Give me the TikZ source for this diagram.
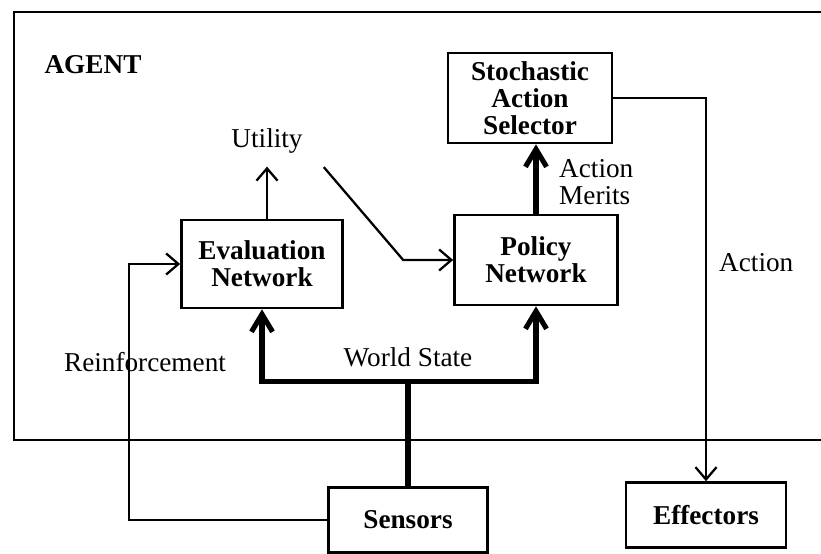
\documentclass[tikz,border=0pt]{standalone}
\usepackage{fontspec}
\setmainfont{Liberation Serif}
\usetikzlibrary{arrows.meta,calc}

\begin{document}
\begin{tikzpicture}[x=0.02cm,y=-0.02cm,
    every node/.style={font=\fontsize{15.5}{15.5}\selectfont},
    box/.style={draw,line width=1.5pt,align=center,inner sep=0pt,
        font=\fontsize{15.5}{15.5}\selectfont\bfseries},
    wire/.style={line width=1.3pt,-{Straight Barb[length=7pt,width=12pt]}},
    bus/.style={line width=2.9pt,-{Straight Barb[length=10pt,width=12pt]}}]
    \useasboundingbox (0,0) rectangle (821,554);

    % the agent frame runs off the right edge
    \draw[line width=1.5pt] (821,12) -- (14,12) -- (14,440) -- (821,440);
    \node[font=\fontsize{15.5}{15.5}\selectfont\bfseries] (agent) at (93,65) {AGENT};

    \node[box,minimum width=3.22cm,minimum height=1.76cm] (eval) at (262,264) {Evaluation\\Network};
    \node[box,minimum width=3.26cm,minimum height=1.8cm] (policy) at (536,260) {Policy\\Network};
    \node[box,minimum width=3.28cm,minimum height=1.8cm] (sas) at (530,98) {Stochastic\\Action\\Selector};
    \node[box,minimum width=3.18cm,minimum height=1.3cm] (sensors) at (408,520) {Sensors};
    \node[box,minimum width=3.2cm,minimum height=1.3cm] (effectors) at (706,515) {Effectors};

    \node (util) at (267,141) {Utility};
    \node (reinf) at (145,362) {Reinforcement};
    \node (world) at (408,357) {World State};
    \node[align=left,anchor=west] (merits) at (553,182) {Action\\Merits};
    \node[anchor=west] (act) at (713,263) {Action};

    % connectors
    \draw[wire,shorten >=4pt] (eval.north -| util.south) -- (util.south);
    \draw[wire] ([shift={(0.3cm,-0.15cm)}]util.south east) -- ($(policy.west)+(-50,0)$) -- (policy.west);
    \draw[wire] (sensors.west) -- ++(-198,0) |- (eval.west);
    \draw[line width=2.9pt] (sensors.north) -- ++(0,-105) coordinate (junc);
    \draw[bus] (junc) -| (eval.south);
    \draw[bus] (junc) -| (policy.south);
    \draw[bus] (policy.north) -- (policy.north |- sas.south);
    \draw[wire] (sas.east) -| (effectors.north);
\end{tikzpicture}
\end{document}
